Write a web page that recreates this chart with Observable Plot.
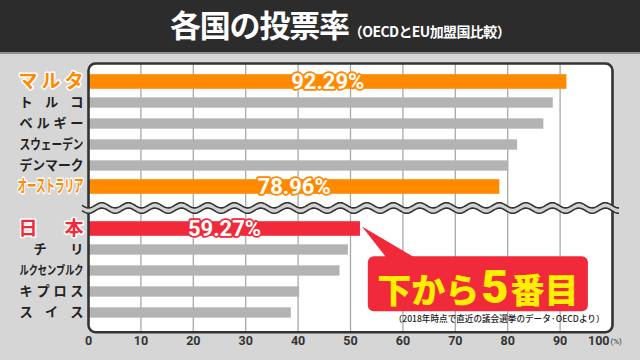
<!DOCTYPE html>
<html><head><meta charset="utf-8">
<script src="https://cdn.jsdelivr.net/npm/d3@7"></script>
<script src="https://cdn.jsdelivr.net/npm/@observablehq/plot@0.6"></script>
<style>
html,body{margin:0;padding:0;background:#d6d6d6;}
body{width:640px;height:360px;overflow:hidden;font-family:"Noto Sans CJK JP",sans-serif;}
#hdr{position:relative;height:52px;background:#2c2c2c;border-bottom:2px solid #8f8f8f;}
#title{position:absolute;left:170px;top:2px;color:#fff;font-size:31px;font-weight:700;letter-spacing:-1.2px;line-height:44px;white-space:nowrap;}
#sub{font-size:14px;font-weight:700;letter-spacing:-0.6px;margin-left:0px;}
#chart svg{display:block;}
</style></head>
<body>
<div id="hdr"><div id="title"><span id="main"></span><span id="sub"></span></div></div>
<div id="chart"></div>
<script>
// ---- data ----
const titleText = "各国の投票率";
const subtitleText = "（OECDとEU加盟国比較）";
const countries = ["マルタ","トルコ","ベルギー","スウェーデン","デンマーク","オーストラリア","日本","チリ","ルクセンブルク","キプロス","スイス"];
const turnout = [91.3, 88.7, 86.9, 81.9, 80.2, 78.5, 51.9, 49.6, 48.0, 40.3, 38.7];
const labeledCountries = ["マルタ","オーストラリア","日本"];
const labeledTexts = ["92.29%","78.96%","59.27%"];
const xTicks = [0,10,20,30,40,50,60,70,80,90,100];
const unitText = "(%)";
const calloutParts = ["下から","5","番目"];
const noteText = "（2018年時点で直近の議会選挙のデータ·OECDより）";

// ---- styling ----
const ORANGE = "#ff8a00", RED = "#f02a3b", GRAY = "#b3b3b3";
const GAP = "__gap__";
const colorOf = c => (c === "マルタ" || c === "オーストラリア") ? ORANGE : c === "日本" ? RED : GRAY;
const rows = countries.map((c, i) => ({country: c, value: turnout[i], color: colorOf(c)}));
const labelRows = labeledCountries.map((c, i) => ({country: c, label: labeledTexts[i], value: turnout[countries.indexOf(c)], color: colorOf(c)}));
const yDomain = [...countries.slice(0, 6), GAP, ...countries.slice(6)];
const labelSize = c => (c === "マルタ" || c === "日本") ? 19 : c === "オーストラリア" ? 16.5 : c === "ルクセンブルク" ? 12.5 : 13.2;
const labelFill = c => colorOf(c) === GRAY ? "#222" : colorOf(c);
const labelStroke = c => colorOf(c) === GRAY ? "none" : "white";
const labelWidth = c => c === "チリ" ? 50 : (c === "オーストラリア" ? 66 : (c === "マルタ" || c === "日本") ? 65 : 64);

document.getElementById("main").textContent = titleText;
document.getElementById("sub").textContent = subtitleText;

const NUMFONT = "Roboto, 'Liberation Sans', Arial, sans-serif";
const JPFONT = "'Noto Sans CJK JP', sans-serif";

const plot = Plot.plot({
  width: 640, height: 306,
  marginLeft: 88, marginRight: 28, marginTop: 9, marginBottom: 28.3,
  style: {background: "transparent", overflow: "visible"},
  x: {domain: [0, 100], axis: null},
  y: {domain: yDomain, axis: null, paddingInner: 0, paddingOuter: 0.28},
  color: {type: "identity"},
  marks: [
    Plot.frame({fill: "white", stroke: "none", rx: 7}),
    Plot.ruleX(xTicks.slice(1, -1), {stroke: "#a8a8a8", strokeWidth: 1.3}),
    Plot.barX(rows.filter(d => d.color !== GRAY), {x: "value", y: "country", fill: "color", insetTop: 3.2, insetBottom: 3.2}),
    Plot.barX(rows.filter(d => d.color === GRAY), {x: "value", y: "country", fill: "color", insetTop: 5.35, insetBottom: 5.35}),
    Plot.text(labelRows, {x: d => d.value / 2, y: "country", text: "label", fill: "white", stroke: "color", strokeWidth: 3.5, fontSize: 22, fontWeight: 700, fontFamily: NUMFONT}),
    Plot.text(rows, {y: "country", frameAnchor: "left", textAnchor: "end", dx: -5, text: "country",
      fill: d => labelFill(d.country), stroke: d => labelStroke(d.country), strokeWidth: 3,
      fontSize: d => labelSize(d.country), fontWeight: 700, fontFamily: JPFONT}),
    Plot.frame({stroke: "#333", strokeWidth: 2.6, rx: 7}),
    Plot.text(xTicks.slice(0, -1), {x: d => d, text: d => String(d), frameAnchor: "bottom", lineAnchor: "top", dy: 3.5, fontSize: 12.5, fontWeight: 700, fill: "#333", fontFamily: NUMFONT}),
    Plot.text(xTicks.slice(-1), {x: d => d, text: d => String(d), frameAnchor: "bottom", lineAnchor: "top", textAnchor: "end", dx: -3, dy: 3.5, fontSize: 12.5, fontWeight: 700, fill: "#333", fontFamily: NUMFONT}),
    Plot.text([unitText], {x: xTicks[xTicks.length - 1], text: d => d, frameAnchor: "bottom", lineAnchor: "top", textAnchor: "start", dx: -2, dy: 6.5, fontSize: 8, fill: "#333", fontFamily: NUMFONT}),
    Plot.text([noteText], {frameAnchor: "bottom-right", textAnchor: "end", dx: -8, dy: -10.5, fontSize: 8.6, fontWeight: 500, fill: "#222", fontFamily: JPFONT})
  ]
});
document.getElementById("chart").appendChild(plot);

// justify country labels to the label column width
d3.select(plot).selectAll("text").filter(function () { return countries.includes(this.textContent); })
  .each(function () {
    const c = this.textContent, target = labelWidth(c);
    const natural = this.getComputedTextLength();
    this.setAttribute("textLength", target);
    this.setAttribute("lengthAdjust", natural > target ? "spacingAndGlyphs" : "spacing");
  });

const xs = plot.scale("x"), ys = plot.scale("y");
const bw = ys.bandwidth;
const yc = v => ys.apply(v) + bw / 2;
const svg = d3.select(plot);

// wavy break between groups
{
  const cy = yc(GAP) + 0.5;
  const x0 = xs.apply(0) - 6, x1 = xs.apply(100) + 7;
  const per = 26.5, amp = 2.6, off = 2.7;
  const up = [], lo = [];
  for (let x = x0; x <= x1 + 0.01; x += 1) {
    const s = amp * Math.sin((x - x0) / per * 2 * Math.PI);
    up.push([x, cy - off + s]);
    lo.push([x, cy + off + s]);
  }
  const line = d3.line();
  svg.append("path").attr("d", line(up.concat(lo.slice().reverse())) + "Z").attr("fill", "#d2d2d2");
  svg.append("path").attr("d", line(up)).attr("fill", "none").attr("stroke", "#333").attr("stroke-width", 1.6);
  svg.append("path").attr("d", line(lo)).attr("fill", "none").attr("stroke", "#333").attr("stroke-width", 1.6);
}

// callout
{
  const jy = yc("日本");
  const jx = xs.apply(turnout[countries.indexOf("日本")]);
  const left = xs.apply(53.4), right = xs.apply(95.4);
  const top = jy + 27.7, bottom = jy + 82.7;
  const g = svg.append("g");
  g.append("path").attr("d", `M${jx + 2},${jy - 2} L${left + 19},${top + 2} L${left + 48},${top + 2} Z`).attr("fill", RED);
  g.append("rect").attr("x", left).attr("y", top).attr("width", right - left).attr("height", bottom - top).attr("rx", 6).attr("fill", RED);
  const t = g.append("text").attr("x", (left + right) / 2).attr("y", bottom - 8.5).attr("text-anchor", "middle").attr("fill", "#ffee00").attr("font-weight", 900);
  t.append("tspan").attr("font-family", JPFONT).attr("font-size", 34).text(calloutParts[0]);
  t.append("tspan").attr("font-family", NUMFONT).attr("font-size", 47).attr("dx", 2).text(calloutParts[1]);
  t.append("tspan").attr("font-family", JPFONT).attr("font-size", 34).attr("dx", 2).text(calloutParts[2]);
}
</script>
</body></html>
